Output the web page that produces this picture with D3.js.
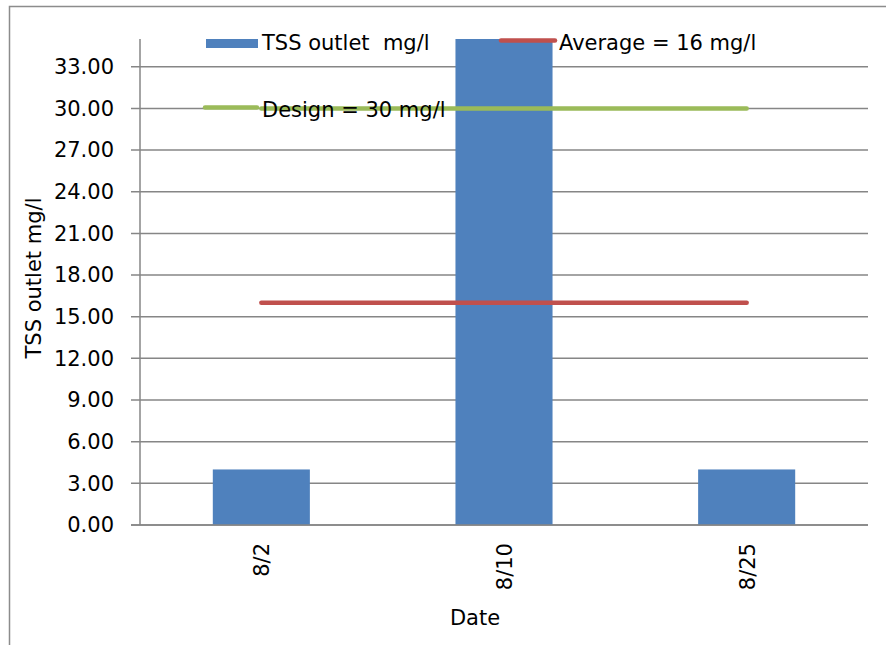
<html>
<head>
<script src="https://d3js.org/d3.v7.min.js"></script>
<style>
body { margin: 0; background: #fff; }
svg { display: block; font-family: 'DejaVu Sans', sans-serif; }
.grid line { stroke: #868686; stroke-width: 1.5; }
.axis-line { stroke: #868686; stroke-width: 1.5; }
.tick-label { font-size: 21px; fill: #000; }
</style>
</head>
<body>
<svg></svg>
<script>

// chart data
var dates = ['8/2', '8/10', '8/25'];
var tssValues = [4, 35, 4];
var averageValues = [16, 16, 16];
var designValues = [30, 30, 30];
var yTicks = [0, 3, 6, 9, 12, 15, 18, 21, 24, 27, 30, 33];
var yMax = 35;

var width = 886,
    height = 645;

// plot area (window.top is reserved, so no plain "top")
var plotLeft = 140, plotRight = 868, plotTop = 39, plotBottom = 525;

var svg = d3.select('svg')
  .attr('width', width)
  .attr('height', height);

// outer chart border (only left and top are inside the picture)
svg.append('path')
  .attr('d', 'M9.5,' + height + 'V6.5H' + width)
  .attr('fill', 'none')
  .attr('stroke', '#8c8c8c')
  .attr('stroke-width', 1.5);

var x = d3.scaleBand()
  .domain(dates)
  .range([plotLeft, plotRight])
  .paddingInner(0.6)
  .paddingOuter(0.3);

var y = d3.scaleLinear()
  .domain([0, yMax])
  .range([plotBottom, plotTop]);

function cx(d, i) { return x(dates[i]) + x.bandwidth() / 2; }

// gridlines + ticks
var grid = svg.append('g').attr('class', 'grid');
grid.selectAll('line')
  .data(yTicks)
  .enter().append('line')
    .attr('x1', plotLeft - 9)
    .attr('x2', plotRight)
    .attr('y1', function(d) { return y(d); })
    .attr('y2', function(d) { return y(d); });

svg.append('g').selectAll('text')
  .data(yTicks)
  .enter().append('text')
    .attr('class', 'tick-label')
    .attr('x', 114)
    .attr('y', function(d) { return y(d); })
    .attr('dy', '0.35em')
    .attr('text-anchor', 'end')
    .text(function(d) { return d3.format('.2f')(d); });

// y axis line
svg.append('line')
  .attr('class', 'axis-line')
  .attr('x1', plotLeft).attr('x2', plotLeft)
  .attr('y1', plotTop).attr('y2', plotBottom);

// bars
svg.append('g').selectAll('rect')
  .data(tssValues)
  .enter().append('rect')
    .attr('x', function(d, i) { return x(dates[i]); })
    .attr('y', function(d) { return y(d); })
    .attr('width', x.bandwidth())
    .attr('height', function(d) { return y(0) - y(d); })
    .attr('fill', '#4f81bd');

// x axis line
svg.append('line')
  .attr('class', 'axis-line')
  .attr('x1', plotLeft - 9).attr('x2', plotRight)
  .attr('y1', plotBottom).attr('y2', plotBottom);

// reference lines
var line = d3.line()
  .x(cx)
  .y(function(d) { return y(d); });

svg.append('path')
  .datum(averageValues)
  .attr('d', line)
  .attr('fill', 'none')
  .attr('stroke', '#c0504d')
  .attr('stroke-width', 4.5)
  .attr('stroke-linecap', 'round');

svg.append('path')
  .datum(designValues)
  .attr('d', line)
  .attr('fill', 'none')
  .attr('stroke', '#9bbb59')
  .attr('stroke-width', 4.5)
  .attr('stroke-linecap', 'round');

// x tick labels (rotated)
svg.append('g').selectAll('text')
  .data(dates)
  .enter().append('text')
    .attr('class', 'tick-label')
    .attr('transform', function(d) {
      return 'translate(' + (x(d) + x.bandwidth() / 2 + 8) + ',' + 543 + ')rotate(-90)';
    })
    .attr('text-anchor', 'end')
    .text(function(d) { return d; });

// axis titles
svg.append('text')
  .attr('class', 'tick-label')
  .attr('x', 475)
  .attr('y', 625)
  .attr('text-anchor', 'middle')
  .text('Date');

svg.append('text')
  .attr('class', 'tick-label')
  .attr('transform', 'translate(41,' + ((plotTop + plotBottom) / 2 - 4) + ')rotate(-90)')
  .attr('text-anchor', 'middle')
  .text('TSS outlet mg/l');

// legend
var legend = svg.append('g');

legend.append('rect')
  .attr('x', 206).attr('y', 39)
  .attr('width', 52).attr('height', 9)
  .attr('fill', '#4f81bd');
legend.append('text')
  .attr('class', 'tick-label')
  .attr('x', 262).attr('y', 50)
  .attr('xml:space', 'preserve')
  .text('TSS outlet  mg/l');

legend.append('line')
  .attr('x1', 501).attr('x2', 555)
  .attr('y1', 40.5).attr('y2', 40.5)
  .attr('stroke', '#c0504d')
  .attr('stroke-width', 4.5)
  .attr('stroke-linecap', 'round');
legend.append('text')
  .attr('class', 'tick-label')
  .attr('x', 559).attr('y', 50)
  .text('Average = 16 mg/l');

legend.append('line')
  .attr('x1', 205).attr('x2', 257)
  .attr('y1', 107.5).attr('y2', 107.5)
  .attr('stroke', '#9bbb59')
  .attr('stroke-width', 4.5)
  .attr('stroke-linecap', 'round');
legend.append('text')
  .attr('class', 'tick-label')
  .attr('x', 262).attr('y', 117)
  .text('Design = 30 mg/l');

</script>
</body>
</html>
